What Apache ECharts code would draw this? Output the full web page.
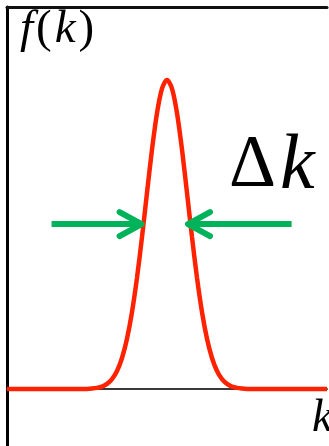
<!DOCTYPE html>
<html>
<head>
<meta charset="utf-8">
<script src="https://cdn.jsdelivr.net/npm/echarts@6/dist/echarts.min.js"></script>
<style>
  html, body { margin: 0; padding: 0; background: #fff; }
  #chart { width: 329px; height: 446px; }
</style>
</head>
<body>
<div id="chart"></div>
<script>
// Wave-packet amplitude f(k) around its central wavenumber
const kValues = [-8, -4, -3.75, -3.5, -3.25, -3, -2.75, -2.5, -2.25, -2, -1.75, -1.5, -1.25, -1, -0.75, -0.5, -0.25, 0,
                 0.25, 0.5, 0.75, 1, 1.25, 1.5, 1.75, 2, 2.25, 2.5, 2.75, 3, 3.25, 3.5, 3.75, 4, 8];
const fValues = [0, 0.0007, 0.0017, 0.0039, 0.0083, 0.0169, 0.0324, 0.0588, 0.1007, 0.163, 0.249, 0.360, 0.492, 0.635, 0.775, 0.893, 0.972, 1,
                 0.972, 0.893, 0.775, 0.635, 0.492, 0.360, 0.249, 0.163, 0.1007, 0.0588, 0.0324, 0.0169, 0.0083, 0.0039, 0.0017, 0.0007, 0];

// Width markers: level and [outer end, tip] of each arrow, in k units
const arrowLevel = 0.534;
const leftArrow = [-5.77, -1.27];
const rightArrow = [6.23, 1.05];

const chart = echarts.init(document.getElementById('chart'), null, { renderer: 'canvas' });

chart.setOption({
  animation: false,
  backgroundColor: '#ffffff',
  grid: { left: 7, right: 2, top: 7, bottom: 0 },
  xAxis: [
    {
      type: 'value', min: -8, max: 8,
      axisLine: { show: true, onZero: true, lineStyle: { color: '#3a3a3a', width: 2 } },
      axisTick: { show: false }, axisLabel: { show: false }, splitLine: { show: false }
    },
    {
      type: 'value', min: -8, max: 8, position: 'top',
      axisLine: { show: true, onZero: false, lineStyle: { color: '#111', width: 3 } },
      axisTick: { show: false }, axisLabel: { show: false }, splitLine: { show: false }
    }
  ],
  yAxis: {
    type: 'value', min: -0.184, max: 1.236,
    axisLine: { show: true, onZero: false, lineStyle: { color: '#000', width: 3 } },
    axisTick: { show: false }, axisLabel: { show: false }, splitLine: { show: false }
  },
  series: [{
    type: 'line',
    xAxisIndex: 0,
    data: kValues.map((k, i) => [k, fValues[i]]),
    smooth: 0.3,
    showSymbol: false,
    z: 5,
    lineStyle: { color: '#ff2200', width: 4.5 }
  }]
});

function arrowGraphics(pair) {
  const start = chart.convertToPixel({ xAxisIndex: 0, yAxisIndex: 0 }, [pair[0], arrowLevel]);
  const tip = chart.convertToPixel({ xAxisIndex: 0, yAxisIndex: 0 }, [pair[1], arrowLevel]);
  const dir = tip[0] > start[0] ? 1 : -1;
  const style = { stroke: '#00b35a', lineWidth: 6, lineCap: 'round', lineJoin: 'round', fill: null };
  return [
    { type: 'polyline', shape: { points: [start, tip] }, style: Object.assign({}, style, { lineCap: 'butt' }), z: 10 },
    { type: 'polyline', shape: { points: [[tip[0] - dir * 22, tip[1] - 12], tip, [tip[0] - dir * 22, tip[1] + 12]] }, style: style, z: 10 }
  ];
}

const serif = '"Times New Roman", "Liberation Serif", "DejaVu Serif", serif';

chart.setOption({
  graphic: [].concat(arrowGraphics(leftArrow), arrowGraphics(rightArrow), [
    {
      type: 'text', left: 20, top: 6, z: 20,
      style: {
        text: '{f|f}{p|(}{f|k}{p|)}',
        rich: {
          f: { fontFamily: serif, fontStyle: 'italic', fontSize: 47, fill: '#000', padding: [0, 3, 0, 3] },
          p: { fontFamily: serif, fontSize: 47, fill: '#000' }
        }
      }
    },
    {
      type: 'text', left: 229, top: 128, z: 20,
      style: {
        text: '{a|Δ}{b|k}',
        rich: {
          a: { fontFamily: serif, fontSize: 73, fill: '#000', textStrokeWidth: 0 },
          b: { fontFamily: serif, fontStyle: 'italic', fontSize: 78, fill: '#000', padding: [0, 0, 0, 4] }
        }
      }
    },
    {
      type: 'text', left: 312, top: 396, z: 20,
      style: { text: 'k', fontFamily: serif, fontStyle: 'italic', fontSize: 46, fill: '#000' }
    }
  ])
});
</script>
</body>
</html>
